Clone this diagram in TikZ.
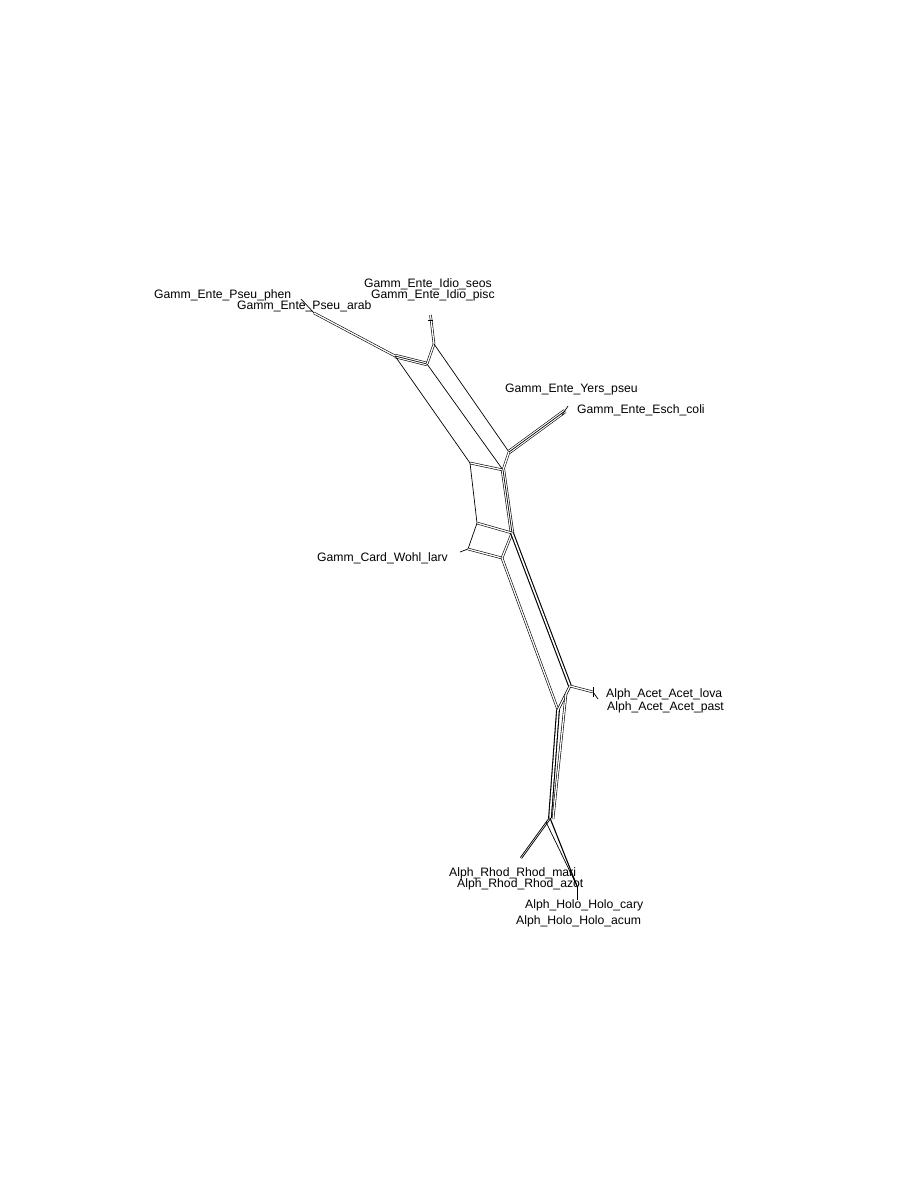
\documentclass[tikz,border=0pt]{standalone}
\usepackage{fontspec}
\setmainfont{Liberation Sans}
\tikzset{
    every node/.style={inner sep=0pt, anchor=base west,
    	font=\fontsize{12.2}{13}\selectfont}
}
\tikzset{
    split/.style={line width=0.7pt},
    split2/.style={double, double distance=1.3pt, line width=0.6pt},
    split3/.style={double, double distance=3pt, line width=0.6pt},
    heavy/.style={double, double distance=1.6pt, line width=1.1pt},
    tight/.style={double, double distance=0.5pt, line width=0.9pt}
}

\begin{document}
\begin{tikzpicture}[x=1pt, y=-1pt]
	\useasboundingbox (0,0) rectangle (897,1200);
	\coordinate (1) at (301,299);
	\coordinate (2) at (314,313);
	\coordinate (3) at (395,356);
	\coordinate (4) at (427,364);
	\coordinate (5) at (434,344);
	\coordinate (6) at (430.5,315);
	\coordinate (7) at (470,463);
	\coordinate (8) at (503,470);
	\coordinate (9) at (509,452);
	\coordinate (10) at (565,411);
	\coordinate (11) at (477,523);
	\coordinate (12) at (512,533);
	\coordinate (13) at (468,549);
	\coordinate (14) at (460,552);
	\coordinate (15) at (502,558);
	\coordinate (16) at (558,710);
	\coordinate (17) at (570,686);
	\coordinate (18) at (593,692);
	\coordinate (19) at (550,818);
	\coordinate (20) at (521,858);
	\coordinate (21) at (577,886);
	\coordinate (22) at (428,320);
	\coordinate (23) at (433,320);
	\coordinate (24) at (562,415);
	\coordinate (25) at (568,406);
	\coordinate (26) at (593,687);
	\coordinate (27) at (593,697);
	\coordinate (28) at (598,699);
	\coordinate (29) at (566,694);
	\coordinate (30) at (553,819);
	\coordinate (31) at (546,822);
	\coordinate (32) at (577,900);

	\node (phen) at (154,298) {Gamm\_Ente\_Pseu\_phen};
	\node (arab) at (237,309) {Gamm\_Ente\_Pseu\_arab};
	\node (seos) at (364,287) {Gamm\_Ente\_Idio\_seos};
	\node (pisc) at (371,298) {Gamm\_Ente\_Idio\_pisc};
	\node (yers) at (505,392) {Gamm\_Ente\_Yers\_pseu};
	\node (esch) at (577,413) {Gamm\_Ente\_Esch\_coli};
	\node (wohl) at (317,561) {Gamm\_Card\_Wohl\_larv};
	\node (lova) at (606,697) {Alph\_Acet\_Acet\_lova};
	\node (past) at (607,710) {Alph\_Acet\_Acet\_past};
	\node (mari) at (449,876) {Alph\_Rhod\_Rhod\_mari};
	\node (azot) at (457,887) {Alph\_Rhod\_Rhod\_azot};
	\node (cary) at (525,908) {Alph\_Holo\_Holo\_cary};
	\node (acum) at (516,924) {Alph\_Holo\_Holo\_acum};

	% Gamma part
	\draw[split] (1) -- (2);
	\draw[split2] (2) -- (3);
	\draw[split3] (3) -- (4);
	\draw[split] (3) -- (4);
	\draw[split2] (4) -- (5);
	\draw[split2] (5) -- (6);
	\draw[split] (22) -- (23);
	\draw[split] (3) -- (7);
	\draw[split] (4) -- (8);
	\draw[split] (5) -- (9);
	\draw[split2] (7) -- (8);
	\draw[split3] (9) -- (10);
	\draw[split] (9) -- (10);
	\draw[split] (24) -- (25);
	\draw[split2] (9) -- (8);
	\draw[split3] (8) -- (12);
	\draw[split] (8) -- (12);
	\draw[split] (7) -- (11);
	\draw[split2] (11) -- (12);
	\draw[split] (11) -- (13);
	\draw[split] (13) -- (14);
	\draw[split2] (13) -- (15);
	\draw[split2] (15) -- (12);
	% Alpha part
	\draw[split2] (15) -- (16);
	\draw[heavy] (12) -- (17);
	\draw[split2] (16) -- (17);
	\draw[split2] (17) -- (18);
	\draw[split] (26) -- (27);
	\draw[split] (18) -- (28);
	\draw[heavy] (16) -- (19);
	\draw[split2] (29) -- (30);
	\draw[tight] (19) -- (20);
	\draw[line width=1.1pt] (19) -- (21);
	\draw[split] (31) -- (21);
	\draw[split] (21) -- (32);
\end{tikzpicture}
\end{document}
